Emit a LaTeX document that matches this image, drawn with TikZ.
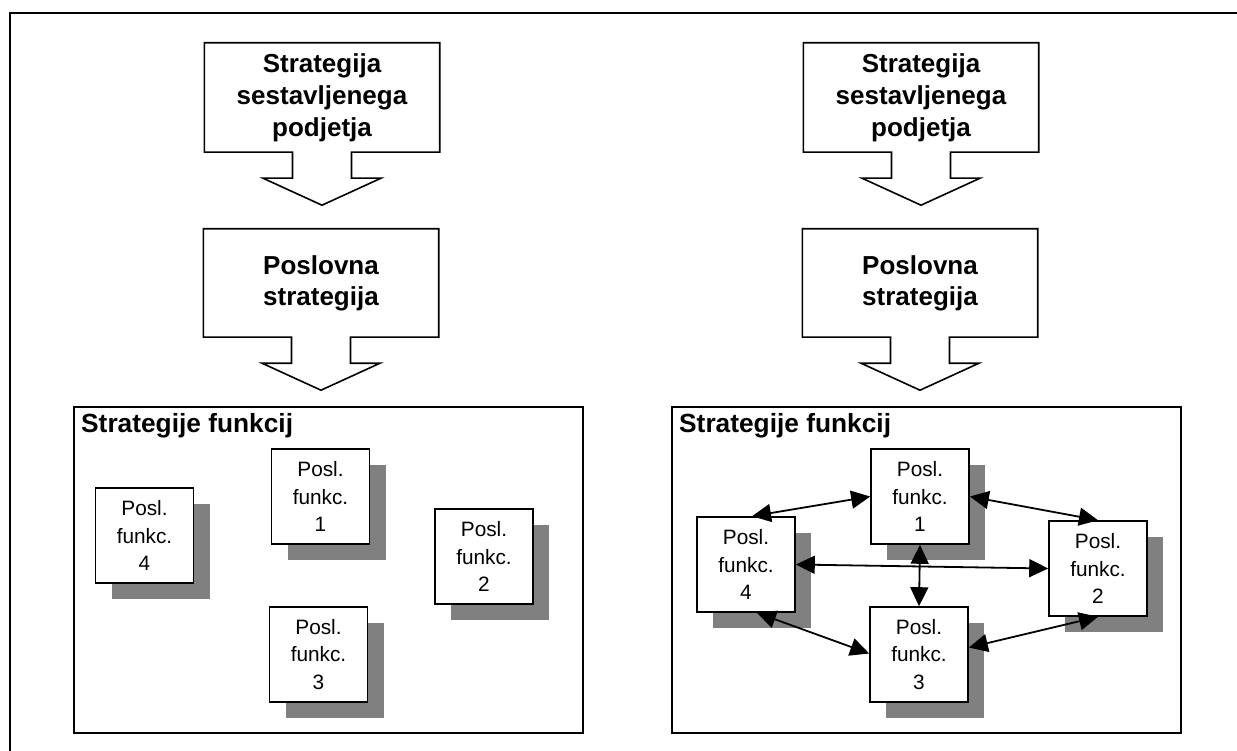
\documentclass[tikz,border=0pt]{standalone}
\usepackage{fontspec}
\setmainfont{Liberation Sans}
\usetikzlibrary{calc,shadows,arrows.meta}
\definecolor{shadowgray}{RGB}{128,128,128}

% Outline of a box with a broad down-pointing arrow under it
\newcommand\calloutarrow[1]{%
  \draw[calloutline] (#1.south west) -- (#1.north west) -- (#1.north east) -- (#1.south east)
    -- ($(#1.south)+(29.5,0)$) -- ($(#1.south)+(29.5,26)$) -- ($(#1.south)+(59,26)$)
    -- ($(#1.south)+(0,53)$) -- ($(#1.south)+(-59,26)$) -- ($(#1.south)+(-29.5,26)$)
    -- ($(#1.south)+(-29.5,0)$) -- cycle;}

\begin{document}
\begin{tikzpicture}[x=1pt,y=-1pt,
  stratbox/.style={minimum width=235pt, minimum height=109pt, inner sep=0pt, align=center,
    font=\fontsize{26}{32}\selectfont\bfseries},
  calloutline/.style={draw, line width=1.6pt, line join=miter},
  panel/.style={draw, line width=1.8pt},
  paneltitle/.style={anchor=base west, inner sep=0pt, font=\fontsize{26.3}{30}\selectfont\bfseries},
  funcbox/.style={draw, fill=white, line width=1.6pt, minimum width=98pt, minimum height=95pt,
    inner sep=0pt, align=center, font=\fontsize{20.8}{27.5}\selectfont,
    general shadow={fill=shadowgray, shadow xshift=16pt, shadow yshift=-16pt}},
  link/.style={line width=1.8pt, {Triangle[length=19pt,width=18pt]}-{Triangle[length=19pt,width=18pt]}},
  frame/.style={line width=2.2pt}
]
\useasboundingbox (0,0) rectangle (1237,751);

% outer frame (top and left edges)
\draw[frame] (10,751) -- (10,13) -- (1237,13);

% ---------------- left column ----------------
\node[stratbox] (la) at (322,97.5) {Strategija\\sestavljenega\\podjetja};
\calloutarrow{la}
\node[stratbox, minimum height=108pt, font=\fontsize{26}{31}\selectfont\bfseries] (lb) at (321,283) {Poslovna\\strategija};
\calloutarrow{lb}

\draw[panel] (74,407) rectangle (583,733);
\node[paneltitle] (lt) at (81,432) {Strategije funkcij};

\node[funcbox] (lf1) at (320.5,496.5) {Posl.\\funkc.\\1};
\node[funcbox] (lf2) at (484,556.5) {Posl.\\funkc.\\2};
\node[funcbox] (lf3) at (318.5,654.5) {Posl.\\funkc.\\3};
\node[funcbox] (lf4) at (144.5,535.5) {Posl.\\funkc.\\4};

% ---------------- right column ----------------
\node[stratbox] (ra) at (921,97.5) {Strategija\\sestavljenega\\podjetja};
\calloutarrow{ra}
\node[stratbox, minimum height=108pt, font=\fontsize{26}{31}\selectfont\bfseries] (rb) at (920,283) {Poslovna\\strategija};
\calloutarrow{rb}

\draw[panel] (672,407) rectangle (1181,733);
\node[paneltitle] (rt) at (679,432) {Strategije funkcij};

\node[funcbox] (rf1) at (920,496.5) {Posl.\\funkc.\\1};
\node[funcbox] (rf2) at (1098,568.5) {Posl.\\funkc.\\2};
\node[funcbox] (rf3) at (919,654.5) {Posl.\\funkc.\\3};
\node[funcbox] (rf4) at (746,564.5) {Posl.\\funkc.\\4};

% links between the functions
\draw[link] ($(rf4.north)+(6,0)$) -- (rf1.west);
\draw[link] (rf1.east) -- (rf2.north);
\draw[link] (rf4.east) -- (rf2.west);
\draw[link] (rf1.south) -- (rf3.north);
\draw[link] ($(rf4.south)+(11,0)$) -- ($(rf3.west)+(0,-1)$);
\draw[link] (rf2.south) -- ($(rf3.east)+(0,-7)$);
\end{tikzpicture}
\end{document}
